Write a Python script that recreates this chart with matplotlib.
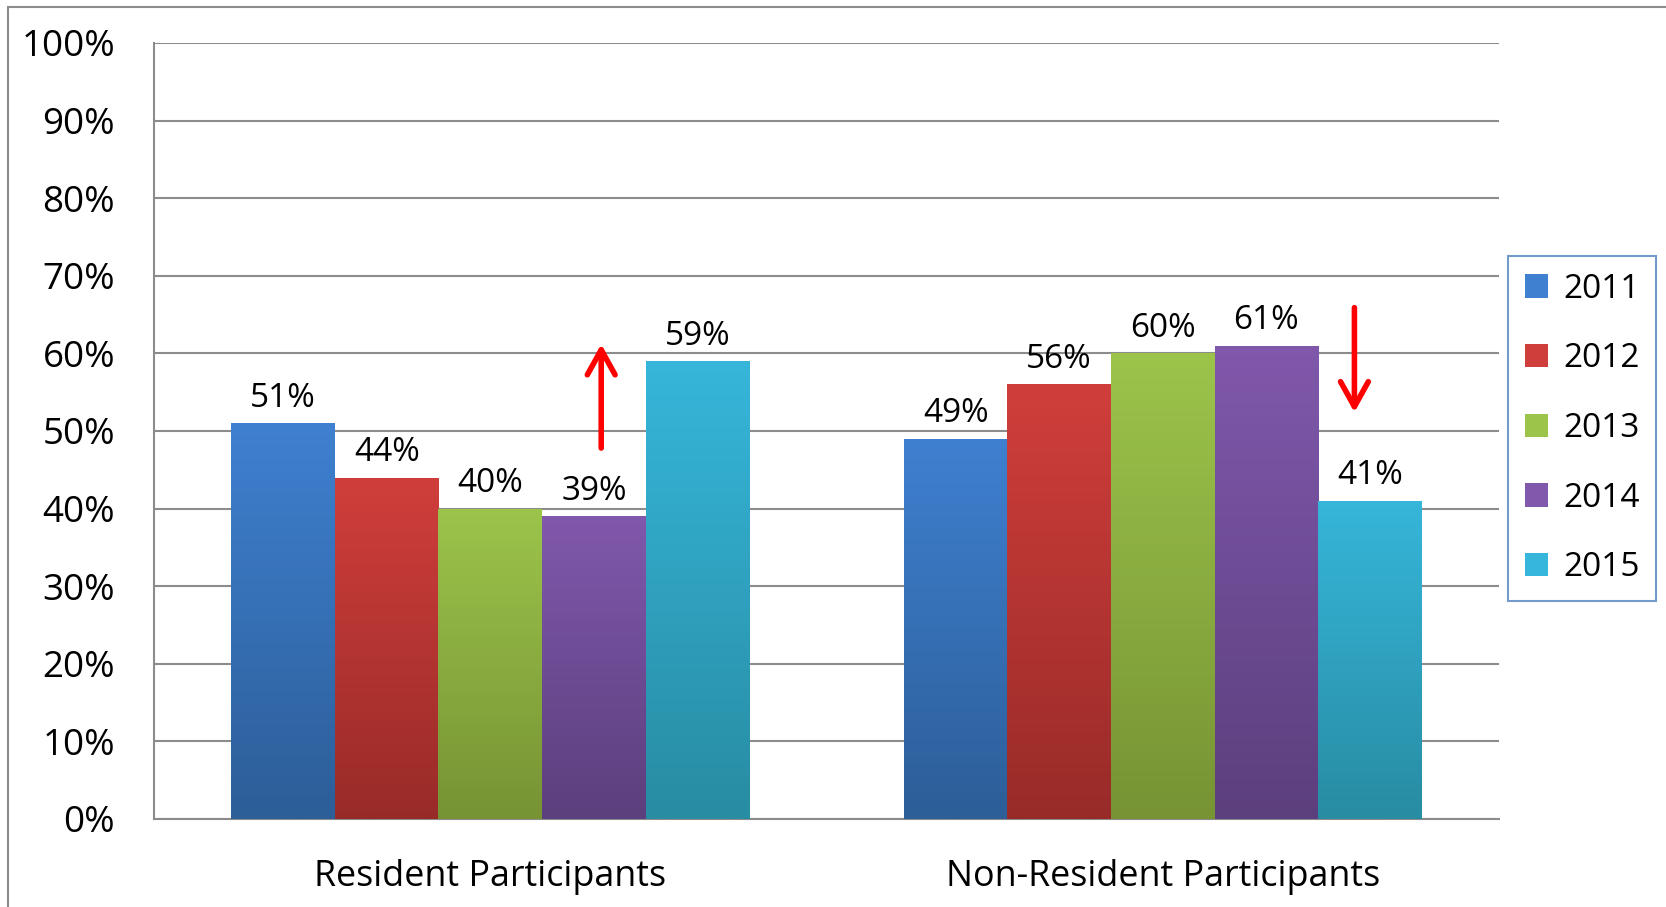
import numpy as np
import matplotlib.pyplot as plt
from matplotlib.patches import Rectangle
from matplotlib.colors import LinearSegmentedColormap

categories = ["Resident Participants", "Non-Resident Participants"]
years = ["2011", "2012", "2013", "2014", "2015"]
values = {
    "2011": [51, 49],
    "2012": [44, 56],
    "2013": [40, 60],
    "2014": [39, 61],
    "2015": [59, 41],
}
# (top, bottom) gradient colours
colors = {
    "2011": ("#3F80D0", "#2C5E98"),
    "2012": ("#D03E3B", "#982B28"),
    "2013": ("#9CC44B", "#779334"),
    "2014": ("#8058AC", "#5C3F7D"),
    "2015": ("#36B6DA", "#288CA3"),
}
arrows = [(0.165, 47.8, 61.2), (1.285, 65.9, 52.4)]

plt.rcParams['font.family'] = ['Open Sans', 'DejaVu Sans']
fig = plt.figure(figsize=(16.66, 9.07), dpi=100)
ax = fig.add_axes([154 / 1666, 1 - 819 / 907, 1345 / 1666, 776 / 907])

x = np.arange(len(categories))
w = 0.154
grad = np.linspace(1, 0, 256).reshape(-1, 1)
for i, yr in enumerate(years):
    xs = x + (i - 2) * w
    bars = ax.bar(xs, values[yr], w, color=colors[yr][0], zorder=3, label=yr)
    cmap = LinearSegmentedColormap.from_list(yr, [colors[yr][1], colors[yr][0]])
    for b, v in zip(bars, values[yr]):
        b.set_facecolor("none")
        b.set_edgecolor("none")
        im = ax.imshow(grad, cmap=cmap, aspect="auto", zorder=3,
                       extent=[b.get_x(), b.get_x() + w, 0, v], origin="upper")
        im.set_clip_path(b)
        ax.text(b.get_x() + w / 2, v + 1.1, f"{v}%", ha="center", va="bottom",
                fontsize=24, zorder=5)

for ax_x, y0, y1 in arrows:
    ax.annotate("", xy=(ax_x, y1), xytext=(ax_x, y0),
                arrowprops=dict(arrowstyle="->,head_length=0.9,head_width=0.5",
                                mutation_scale=20, color="red", lw=4,
                                capstyle="round", joinstyle="round",
                                shrinkA=0, shrinkB=0),
                zorder=6)

ax.set_xlim(-0.5, 1.5)
ax.set_ylim(0, 100)
ax.set_yticks(range(0, 101, 10))
ax.set_yticklabels([f"{t}%" for t in range(0, 101, 10)], fontsize=26.5)
ax.set_xticks(x)
ax.set_xticklabels(categories, fontsize=25.8)
ax.tick_params(axis="y", length=0, pad=28)
ax.tick_params(axis="x", length=0, pad=29)
ax.grid(axis="y", color="#8C8C8C", lw=1.5, zorder=0)
for s in ["top", "right"]:
    ax.spines[s].set_visible(False)
for s in ["left", "bottom"]:
    ax.spines[s].set_color("#8C8C8C")
    ax.spines[s].set_linewidth(1.5)

handles = [Rectangle((0, 0), 1, 1, facecolor=colors[yr][0], edgecolor="none") for yr in years]
leg = fig.legend(handles, years, loc="upper left",
                 bbox_to_anchor=(1508 / 1666, 1 - 256 / 907), fontsize=24,
                 frameon=True, fancybox=False, handlelength=0.7, handleheight=0.7,
                 labelspacing=1.1, borderpad=0.5, handletextpad=0.45, borderaxespad=0)
leg.get_frame().set_edgecolor("#4F81BD")
leg.get_frame().set_linewidth(1.5)

fig.add_artist(Rectangle((8 / 1666, -0.1), 1.2, 1 - 7 / 907 + 0.1, transform=fig.transFigure,
                         fill=False, edgecolor="#8C8C8C", lw=1.5))

fig.savefig("out.png", dpi=100)
